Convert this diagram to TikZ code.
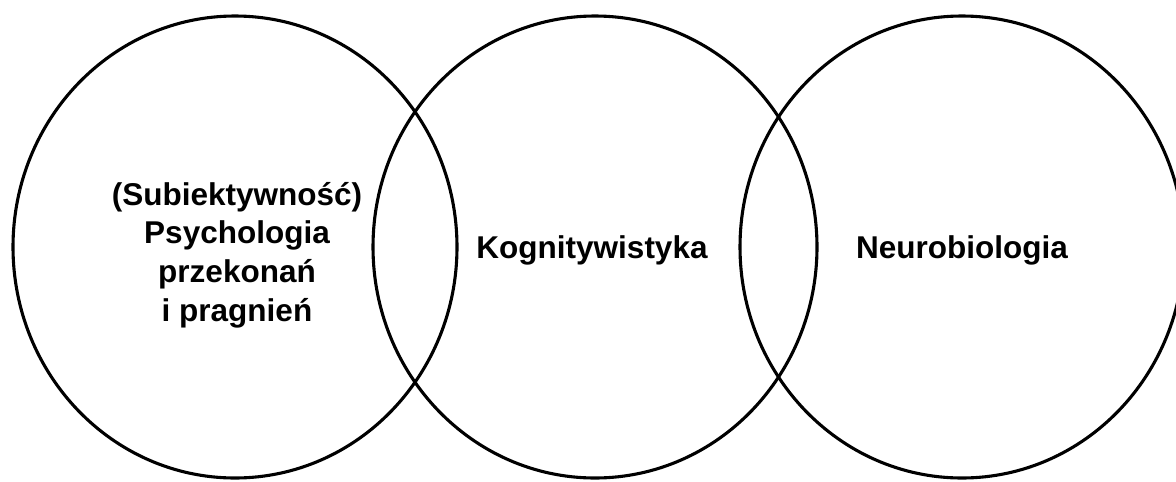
\documentclass[tikz,border=0pt]{standalone}
\usepackage{fontspec}
\setmainfont{Liberation Sans}
\usepackage{tikz}

\tikzset{
  field/.style={line width=2.2pt},
  fieldname/.style={align=center, font=\fontsize{22.4}{27.5}\selectfont\bfseries}
}

\begin{document}
\begin{tikzpicture}[x=0.025cm, y=-0.025cm]

\useasboundingbox (0,0) rectangle (1176,481);

% three overlapping fields
\def \rx {222}
\def \ry {231}
\def \c {247}

\def \b {235}
\draw[field] (\b,\c) ellipse [x radius=\rx, y radius=\ry];
\node[fieldname] (psych) at (\b+2,\c+8) {(Subiektywność)\\Psychologia\\przekonań\\i pragnień};

\def \b {595}
\draw[field] (\b,\c) ellipse [x radius=\rx, y radius=\ry];
\node[fieldname] (kogn) at (\b-3,\c+3) {Kognitywistyka};

\def \b {962}
\draw[field] (\b,\c) ellipse [x radius=\rx, y radius=\ry];
\node[fieldname] (neuro) at (\b,\c+3) {Neurobiologia};

\end{tikzpicture}
\end{document}
